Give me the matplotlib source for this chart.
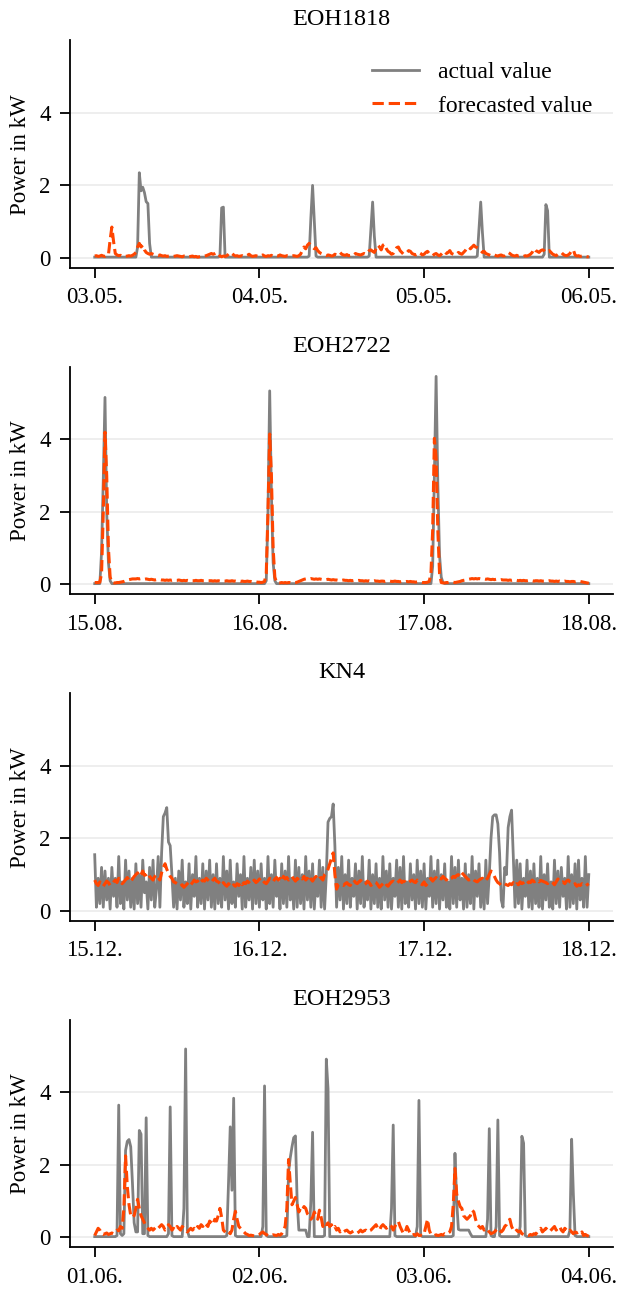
import numpy as np
import pandas as pd
import matplotlib
matplotlib.use("Agg")
import matplotlib.pyplot as plt
import matplotlib.dates as mdates

plt.rcParams['font.family'] = ['Liberation Serif', 'DejaVu Serif']
plt.rcParams['font.size'] = 16.5

titles = ['EOH1818', 'EOH2722', 'KN4', 'EOH2953']
start_dates = ['2019-05-03', '2019-08-15', '2019-12-15', '2019-06-01']
legend_labels = ['actual value', 'forecasted value']
y_ticks = [0, 2, 4]

# 15-minute values, 3 days (289 samples each)
eoh1818_actual = [
    0.02, 0.02, 0.02, 0.02, 0.02, 0.02, 0.02, 0.02, 0.02, 0.02, 0.02, 0.02, 0.02, 0.02, 0.02, 0.02, 0.02, 0.02, 0.02, 0.02, 0.02, 0.02, 0.02, 0.02,
    0.02, 0.3, 2.35, 1.85, 1.95, 1.8, 1.55, 1.5, 0.4, 0.02, 0.02, 0.02, 0.02, 0.02, 0.02, 0.02, 0.02, 0.02, 0.02, 0.02, 0.02, 0.02, 0.02, 0.02,
    0.02, 0.02, 0.02, 0.02, 0.02, 0.02, 0.02, 0.02, 0.02, 0.02, 0.02, 0.02, 0.02, 0.02, 0.02, 0.02, 0.02, 0.02, 0.02, 0.02, 0.02, 0.02, 0.02, 0.02,
    0.02, 0.05, 1.38, 1.4, 0.02, 0.02, 0.02, 0.02, 0.02, 0.02, 0.02, 0.02, 0.02, 0.02, 0.02, 0.02, 0.02, 0.02, 0.02, 0.02, 0.02, 0.02, 0.02, 0.02,
    0.02, 0.02, 0.02, 0.02, 0.02, 0.02, 0.02, 0.02, 0.02, 0.02, 0.02, 0.02, 0.02, 0.02, 0.02, 0.02, 0.02, 0.02, 0.02, 0.02, 0.02, 0.02, 0.02, 0.02,
    0.02, 0.02, 0.02, 0.02, 0.02, 0.05, 1.1, 2.0, 1.0, 0.05, 0.02, 0.02, 0.02, 0.02, 0.02, 0.02, 0.02, 0.02, 0.02, 0.02, 0.02, 0.02, 0.02, 0.02,
    0.02, 0.02, 0.02, 0.02, 0.02, 0.02, 0.02, 0.02, 0.02, 0.02, 0.02, 0.02, 0.02, 0.02, 0.02, 0.02, 0.05, 0.8, 1.54, 0.6, 0.02, 0.02, 0.02, 0.02,
    0.02, 0.02, 0.02, 0.02, 0.02, 0.02, 0.02, 0.02, 0.02, 0.02, 0.02, 0.02, 0.02, 0.02, 0.02, 0.02, 0.02, 0.02, 0.02, 0.02, 0.02, 0.02, 0.02, 0.02,
    0.02, 0.02, 0.02, 0.02, 0.02, 0.02, 0.02, 0.02, 0.02, 0.02, 0.02, 0.02, 0.02, 0.02, 0.02, 0.02, 0.02, 0.02, 0.02, 0.02, 0.02, 0.02, 0.02, 0.02,
    0.02, 0.02, 0.02, 0.02, 0.02, 0.02, 0.02, 0.05, 0.8, 1.54, 0.7, 0.02, 0.02, 0.02, 0.02, 0.02, 0.02, 0.02, 0.02, 0.02, 0.02, 0.02, 0.02, 0.02,
    0.02, 0.02, 0.02, 0.02, 0.02, 0.02, 0.02, 0.02, 0.02, 0.02, 0.02, 0.02, 0.02, 0.02, 0.02, 0.02, 0.02, 0.02, 0.02, 0.02, 0.02, 0.02, 0.1, 1.47,
    1.3, 0.02, 0.02, 0.02, 0.02, 0.02, 0.02, 0.02, 0.02, 0.02, 0.02, 0.02, 0.02, 0.02, 0.02, 0.02, 0.02, 0.02, 0.02, 0.02, 0.02, 0.02, 0.02, 0.02,
    0.02,
]
eoh1818_forecast = [
    0.05, 0.06, 0.04, 0.05, 0.07, 0.05, 0.04, 0.06, 0.08, 0.5, 0.85, 0.45, 0.12, 0.08, 0.06, 0.07, 0.05, 0.06, 0.04, 0.05, 0.06, 0.05, 0.07, 0.1,
    0.15, 0.3, 0.4, 0.3, 0.35, 0.22, 0.15, 0.12, 0.1, 0.12, 0.1, 0.08, 0.07, 0.06, 0.08, 0.06, 0.05, 0.06, 0.04, 0.05, 0.06, 0.05, 0.04, 0.05,
    0.06, 0.05, 0.04, 0.03, 0.05, 0.04, 0.05, 0.03, 0.04, 0.05, 0.03, 0.04, 0.02, 0.03, 0.04, 0.03, 0.05, 0.06, 0.08, 0.1, 0.12, 0.1, 0.12, 0.15,
    0.1, 0.05, 0.03, 0.05, 0.04, 0.06, 0.1, 0.15, 0.12, 0.08, 0.05, 0.06, 0.04, 0.05, 0.06, 0.04, 0.05, 0.07, 0.1, 0.06, 0.04, 0.05, 0.06, 0.04,
    0.05, 0.06, 0.08, 0.05, 0.04, 0.06, 0.05, 0.07, 0.04, 0.05, 0.06, 0.05, 0.08, 0.06, 0.05, 0.04, 0.06, 0.05, 0.04, 0.05, 0.06, 0.05, 0.04, 0.06,
    0.1, 0.2, 0.3, 0.25, 0.35, 0.4, 0.35, 0.3, 0.25, 0.28, 0.2, 0.15, 0.12, 0.1, 0.08, 0.06, 0.08, 0.07, 0.05, 0.06, 0.1, 0.08, 0.12, 0.15,
    0.1, 0.08, 0.07, 0.09, 0.06, 0.07, 0.1, 0.08, 0.12, 0.1, 0.09, 0.08, 0.1, 0.12, 0.1, 0.15, 0.2, 0.22, 0.18, 0.15, 0.25, 0.35, 0.3, 0.22,
    0.35, 0.38, 0.25, 0.18, 0.15, 0.1, 0.12, 0.2, 0.28, 0.3, 0.2, 0.15, 0.1, 0.12, 0.15, 0.2, 0.18, 0.12, 0.1, 0.08, 0.1, 0.15, 0.12, 0.08,
    0.1, 0.15, 0.18, 0.12, 0.08, 0.06, 0.1, 0.12, 0.08, 0.06, 0.1, 0.15, 0.18, 0.12, 0.15, 0.2, 0.12, 0.1, 0.08, 0.1, 0.15, 0.12, 0.1, 0.15,
    0.2, 0.28, 0.3, 0.25, 0.3, 0.35, 0.3, 0.28, 0.25, 0.2, 0.15, 0.18, 0.12, 0.1, 0.08, 0.06, 0.05, 0.08, 0.06, 0.05, 0.07, 0.08, 0.05, 0.06,
    0.1, 0.15, 0.12, 0.08, 0.06, 0.05, 0.07, 0.05, 0.06, 0.05, 0.04, 0.06, 0.05, 0.07, 0.1, 0.15, 0.25, 0.2, 0.18, 0.15, 0.2, 0.22, 0.2, 0.15,
    0.18, 0.2, 0.15, 0.1, 0.08, 0.06, 0.1, 0.12, 0.15, 0.1, 0.07, 0.06, 0.08, 0.12, 0.2, 0.22, 0.08, 0.05, 0.06, 0.04, 0.05, 0.03, 0.04, 0.03,
    0.03,
]

eoh2722_actual = [
    0.02, 0.02, 0.02, 0.02, 0.9, 2.9, 5.16, 2.0, 0.6, 0.1, 0.02, 0.02, 0.02, 0.02, 0.02, 0.02, 0.02, 0.02, 0.02, 0.02, 0.02, 0.02, 0.02, 0.02,
    0.02, 0.02, 0.02, 0.02, 0.02, 0.02, 0.02, 0.02, 0.02, 0.02, 0.02, 0.02, 0.02, 0.02, 0.02, 0.02, 0.02, 0.02, 0.02, 0.02, 0.02, 0.02, 0.02, 0.02,
    0.02, 0.02, 0.02, 0.02, 0.02, 0.02, 0.02, 0.02, 0.02, 0.02, 0.02, 0.02, 0.02, 0.02, 0.02, 0.02, 0.02, 0.02, 0.02, 0.02, 0.02, 0.02, 0.02, 0.02,
    0.02, 0.02, 0.02, 0.02, 0.02, 0.02, 0.02, 0.02, 0.02, 0.02, 0.02, 0.02, 0.02, 0.02, 0.02, 0.02, 0.02, 0.02, 0.02, 0.02, 0.02, 0.02, 0.02, 0.02,
    0.02, 0.02, 0.02, 0.02, 0.1, 2.0, 5.34, 2.5, 0.6, 0.1, 0.02, 0.02, 0.02, 0.02, 0.02, 0.02, 0.02, 0.02, 0.02, 0.02, 0.02, 0.02, 0.02, 0.02,
    0.02, 0.02, 0.02, 0.02, 0.02, 0.02, 0.02, 0.02, 0.02, 0.02, 0.02, 0.02, 0.02, 0.02, 0.02, 0.02, 0.02, 0.02, 0.02, 0.02, 0.02, 0.02, 0.02, 0.02,
    0.02, 0.02, 0.02, 0.02, 0.02, 0.02, 0.02, 0.02, 0.02, 0.02, 0.02, 0.02, 0.02, 0.02, 0.02, 0.02, 0.02, 0.02, 0.02, 0.02, 0.02, 0.02, 0.02, 0.02,
    0.02, 0.02, 0.02, 0.02, 0.02, 0.02, 0.02, 0.02, 0.02, 0.02, 0.02, 0.02, 0.02, 0.02, 0.02, 0.02, 0.02, 0.02, 0.02, 0.02, 0.02, 0.02, 0.02, 0.02,
    0.02, 0.02, 0.02, 0.02, 0.02, 0.5, 3.0, 5.74, 2.8, 0.8, 0.2, 0.05, 0.02, 0.02, 0.02, 0.02, 0.02, 0.02, 0.02, 0.02, 0.02, 0.02, 0.02, 0.02,
    0.02, 0.02, 0.02, 0.02, 0.02, 0.02, 0.02, 0.02, 0.02, 0.02, 0.02, 0.02, 0.02, 0.02, 0.02, 0.02, 0.02, 0.02, 0.02, 0.02, 0.02, 0.02, 0.02, 0.02,
    0.02, 0.02, 0.02, 0.02, 0.02, 0.02, 0.02, 0.02, 0.02, 0.02, 0.02, 0.02, 0.02, 0.02, 0.02, 0.02, 0.02, 0.02, 0.02, 0.02, 0.02, 0.02, 0.02, 0.02,
    0.02, 0.02, 0.02, 0.02, 0.02, 0.02, 0.02, 0.02, 0.02, 0.02, 0.02, 0.02, 0.02, 0.02, 0.02, 0.02, 0.02, 0.02, 0.02, 0.02, 0.02, 0.02, 0.02, 0.02,
    0.02,
]
eoh2722_forecast = [
    0.05, 0.05, 0.05, 0.06, 0.3, 2.0, 4.2, 3.0, 1.0, 0.2, 0.05, 0.04, 0.04, 0.05, 0.05, 0.06, 0.07, 0.08, 0.1, 0.12, 0.13, 0.14, 0.15, 0.15,
    0.15, 0.16, 0.15, 0.16, 0.15, 0.14, 0.15, 0.14, 0.13, 0.14, 0.13, 0.12, 0.13, 0.12, 0.13, 0.12, 0.12, 0.11, 0.12, 0.11, 0.12, 0.11, 0.12, 0.11,
    0.11, 0.12, 0.11, 0.1, 0.11, 0.1, 0.11, 0.1, 0.11, 0.1, 0.1, 0.11, 0.1, 0.1, 0.11, 0.1, 0.1, 0.11, 0.1, 0.1, 0.1, 0.09, 0.1, 0.09,
    0.1, 0.09, 0.1, 0.09, 0.09, 0.1, 0.09, 0.09, 0.1, 0.09, 0.09, 0.08, 0.09, 0.08, 0.09, 0.08, 0.08, 0.09, 0.08, 0.08, 0.07, 0.08, 0.07, 0.06,
    0.06, 0.05, 0.06, 0.08, 0.3, 2.0, 4.15, 3.0, 1.0, 0.2, 0.05, 0.04, 0.04, 0.05, 0.04, 0.05, 0.04, 0.05, 0.05, 0.04, 0.05, 0.05, 0.06, 0.08,
    0.1, 0.12, 0.14, 0.15, 0.16, 0.15, 0.16, 0.15, 0.14, 0.15, 0.14, 0.15, 0.14, 0.13, 0.14, 0.13, 0.14, 0.13, 0.12, 0.13, 0.12, 0.12, 0.11, 0.12,
    0.11, 0.12, 0.11, 0.11, 0.1, 0.11, 0.1, 0.11, 0.1, 0.1, 0.11, 0.1, 0.1, 0.09, 0.1, 0.09, 0.1, 0.09, 0.09, 0.1, 0.09, 0.09, 0.08, 0.09,
    0.09, 0.08, 0.09, 0.08, 0.09, 0.08, 0.08, 0.09, 0.08, 0.08, 0.07, 0.08, 0.08, 0.07, 0.08, 0.07, 0.08, 0.07, 0.07, 0.06, 0.07, 0.06, 0.06, 0.05,
    0.05, 0.05, 0.06, 0.08, 0.3, 1.5, 4.03, 3.5, 1.5, 0.3, 0.05, 0.04, 0.04, 0.05, 0.05, 0.06, 0.05, 0.06, 0.05, 0.06, 0.07, 0.08, 0.1, 0.11,
    0.12, 0.13, 0.14, 0.15, 0.16, 0.15, 0.16, 0.15, 0.16, 0.15, 0.14, 0.15, 0.14, 0.15, 0.14, 0.13, 0.14, 0.13, 0.14, 0.13, 0.12, 0.13, 0.12, 0.12,
    0.12, 0.11, 0.12, 0.11, 0.12, 0.11, 0.11, 0.1, 0.11, 0.1, 0.11, 0.1, 0.1, 0.11, 0.1, 0.1, 0.09, 0.1, 0.1, 0.09, 0.1, 0.09, 0.09, 0.1,
    0.09, 0.1, 0.09, 0.09, 0.08, 0.09, 0.08, 0.09, 0.08, 0.08, 0.09, 0.08, 0.08, 0.07, 0.08, 0.08, 0.07, 0.08, 0.07, 0.08, 0.07, 0.06, 0.05, 0.04,
    0.03,
]

kn4_actual = [
    1.55, 0.1, 0.9, 0.2, 1.2, 0.1, 1.1, 0.3, 0.9, 0.05, 1.2, 0.4, 0.9, 0.1, 1.5, 0.2, 0.8, 0.05, 1.4, 0.3, 1.1, 0.1, 0.9, 0.05,
    1.3, 0.2, 1.0, 0.1, 1.4, 0.5, 0.8, 0.05, 1.2, 0.3, 1.4, 0.1, 0.6, 1.5, 0.1, 1.6, 2.6, 2.7, 2.85, 1.9, 1.8, 1.0, 0.1, 0.9,
    0.05, 1.1, 0.3, 1.4, 0.1, 0.8, 0.2, 1.3, 0.05, 1.0, 0.4, 1.5, 0.1, 0.9, 0.2, 1.3, 0.05, 1.1, 0.3, 1.4, 0.1, 1.0, 0.05, 1.3,
    0.2, 0.9, 0.1, 1.5, 0.3, 1.1, 0.05, 1.4, 0.2, 0.8, 0.1, 1.3, 0.4, 1.0, 0.05, 1.5, 0.1, 0.9, 0.3, 1.2, 0.05, 1.4, 0.2, 1.1,
    0.1, 1.3, 0.3, 0.9, 0.05, 1.5, 0.2, 1.0, 0.1, 1.4, 0.4, 0.8, 0.05, 1.3, 0.2, 1.1, 0.1, 1.5, 0.3, 0.9, 0.05, 1.4, 0.1, 1.2,
    0.2, 1.0, 0.05, 1.5, 0.3, 1.1, 0.1, 1.3, 0.05, 0.9, 0.4, 1.4, 0.1, 1.2, 0.05, 1.0, 2.45, 2.55, 2.6, 2.95, 1.8, 0.1, 1.2, 0.3,
    1.5, 0.05, 1.0, 0.2, 1.4, 0.1, 0.9, 0.4, 1.3, 0.05, 1.1, 0.2, 1.5, 0.1, 0.8, 0.3, 1.4, 0.05, 1.0, 0.2, 1.3, 0.1, 0.9, 0.05,
    1.5, 0.3, 1.1, 0.1, 1.3, 0.05, 0.9, 0.4, 1.4, 0.1, 1.2, 0.05, 1.5, 0.2, 0.8, 0.1, 1.3, 0.3, 1.0, 0.05, 1.4, 0.2, 1.1, 0.1,
    1.3, 0.05, 0.9, 0.4, 1.5, 0.1, 1.1, 0.2, 1.4, 0.05, 1.0, 0.3, 1.3, 0.1, 0.8, 0.05, 1.5, 0.2, 1.2, 0.1, 1.4, 0.3, 0.9, 0.05,
    1.3, 0.1, 1.0, 0.2, 1.5, 0.05, 1.1, 0.4, 1.3, 0.1, 0.9, 0.05, 1.4, 0.2, 1.0, 2.0, 2.6, 2.65, 2.65, 2.4, 1.6, 0.3, 0.1, 1.2,
    1.0, 2.3, 2.6, 2.78, 1.5, 0.1, 1.4, 0.2, 1.3, 0.05, 0.9, 0.4, 1.4, 0.1, 1.1, 0.05, 1.3, 0.2, 0.9, 0.1, 1.5, 0.05, 1.0, 0.3,
    1.3, 0.1, 0.8, 0.05, 1.4, 0.2, 1.1, 0.1, 1.2, 0.4, 0.9, 0.05, 1.5, 0.1, 1.0, 0.2, 1.3, 0.05, 1.4, 0.3, 0.9, 0.1, 1.5, 0.1,
    1.0,
]
kn4_forecast = [
    0.85, 0.75, 0.7, 0.8, 0.72, 0.68, 0.75, 0.82, 0.78, 0.7, 0.74, 0.8, 0.85, 0.78, 0.9, 0.82, 0.75, 0.8, 0.86, 0.92, 0.85, 0.8, 0.88, 0.95,
    1.0, 1.05, 0.95, 1.0, 1.1, 0.98, 1.0, 1.05, 0.95, 0.9, 0.85, 0.95, 1.0, 0.92, 0.85, 1.05, 1.2, 1.3, 1.15, 1.05, 0.95, 0.9, 0.8, 0.78,
    0.75, 0.7, 0.68, 0.72, 0.65, 0.7, 0.75, 0.8, 0.72, 0.78, 0.85, 0.8, 0.82, 0.88, 0.8, 0.85, 0.82, 0.9, 0.85, 0.8, 0.78, 0.85, 0.9, 0.82,
    0.8, 0.75, 0.7, 0.78, 0.72, 0.68, 0.75, 0.7, 0.65, 0.72, 0.68, 0.75, 0.7, 0.8, 0.72, 0.78, 0.75, 0.82, 0.78, 0.74, 0.8, 0.85, 0.78, 0.82,
    0.88, 0.8, 0.84, 0.78, 0.75, 0.82, 0.9, 0.85, 0.8, 0.88, 0.92, 0.85, 0.9, 0.82, 0.95, 0.88, 0.92, 0.85, 0.9, 0.95, 0.88, 0.82, 0.9, 0.85,
    0.92, 0.88, 0.95, 0.85, 0.9, 0.98, 0.88, 0.82, 0.9, 0.95, 0.85, 0.9, 0.92, 0.85, 1.0, 1.05, 1.15, 1.3, 1.45, 1.6, 1.0, 0.6, 0.72, 0.75,
    0.72, 0.7, 0.75, 0.78, 0.72, 0.7, 0.8, 0.85, 0.78, 0.75, 0.8, 0.84, 0.78, 0.72, 0.75, 0.82, 0.78, 0.7, 0.74, 0.8, 0.78, 0.72, 0.65, 0.7,
    0.75, 0.8, 0.72, 0.68, 0.75, 0.8, 0.82, 0.78, 0.75, 0.8, 0.85, 0.78, 0.82, 0.8, 0.75, 0.78, 0.82, 0.85, 0.8, 0.78, 0.85, 0.8, 0.75, 0.72,
    0.8, 0.7, 0.75, 0.85, 0.9, 0.82, 0.88, 0.92, 0.85, 0.9, 0.88, 0.95, 0.9, 0.85, 0.92, 0.88, 0.9, 0.95, 0.92, 0.98, 1.0, 0.95, 1.05, 1.0,
    0.95, 0.9, 0.85, 0.88, 0.9, 0.85, 0.82, 0.8, 0.85, 0.88, 0.9, 0.82, 0.85, 0.9, 1.0, 1.1, 1.05, 0.95, 0.85, 0.78, 0.75, 0.7, 0.72, 0.75,
    0.72, 0.7, 0.75, 0.72, 0.78, 0.7, 0.75, 0.72, 0.8, 0.75, 0.78, 0.82, 0.75, 0.8, 0.78, 0.85, 0.8, 0.82, 0.86, 0.8, 0.84, 0.82, 0.8, 0.78,
    0.75, 0.8, 0.82, 0.78, 0.72, 0.8, 0.88, 0.82, 0.78, 0.8, 0.75, 0.82, 0.85, 0.8, 0.78, 0.72, 0.75, 0.68, 0.72, 0.7, 0.75, 0.72, 0.68, 0.72,
    0.75,
]

eoh2953_actual = [
    0.02, 0.02, 0.02, 0.02, 0.02, 0.02, 0.02, 0.02, 0.02, 0.02, 0.02, 0.02, 0.02, 0.05, 3.65, 0.1, 0.05, 0.1, 2.4, 2.65, 2.7, 2.5, 1.5, 0.4,
    0.15, 0.15, 2.95, 2.85, 0.1, 0.1, 3.3, 0.05, 0.02, 0.02, 0.02, 0.02, 0.02, 0.02, 0.02, 0.02, 0.02, 0.02, 0.02, 0.1, 3.6, 0.05, 0.02, 0.02,
    0.02, 0.02, 0.02, 0.02, 0.8, 5.2, 0.2, 0.02, 0.02, 0.02, 0.02, 0.02, 0.02, 0.02, 0.02, 0.02, 0.02, 0.02, 0.02, 0.02, 0.02, 0.02, 0.02, 0.02,
    0.02, 0.02, 0.02, 0.02, 0.02, 0.05, 1.5, 3.05, 1.3, 3.84, 0.05, 0.02, 0.02, 0.02, 0.02, 0.02, 0.02, 0.02, 0.02, 0.02, 0.02, 0.02, 0.02, 0.02,
    0.02, 0.02, 0.3, 4.18, 0.05, 0.02, 0.02, 0.02, 0.02, 0.02, 0.02, 0.02, 0.02, 0.02, 0.02, 0.02, 0.05, 1.8, 2.2, 2.5, 2.75, 2.8, 1.0, 0.2,
    0.2, 0.2, 0.2, 0.2, 0.02, 0.02, 1.0, 2.9, 0.02, 0.02, 0.02, 0.02, 0.02, 0.02, 0.05, 4.92, 4.1, 0.02, 0.02, 0.02, 0.02, 0.02, 0.02, 0.02,
    0.02, 0.02, 0.02, 0.02, 0.02, 0.02, 0.02, 0.02, 0.02, 0.02, 0.02, 0.02, 0.02, 0.02, 0.02, 0.02, 0.02, 0.02, 0.02, 0.02, 0.02, 0.02, 0.02, 0.02,
    0.02, 0.02, 0.02, 0.02, 0.02, 0.8, 3.1, 0.05, 0.02, 0.02, 0.02, 0.02, 0.02, 0.02, 0.02, 0.02, 0.02, 0.02, 0.02, 0.02, 0.3, 3.78, 0.05, 0.02,
    0.02, 0.02, 0.02, 0.02, 0.02, 0.02, 0.02, 0.02, 0.02, 0.02, 0.02, 0.02, 0.02, 0.02, 0.02, 0.02, 0.02, 0.05, 2.32, 1.0, 0.22, 0.2, 0.2, 0.2,
    0.2, 0.2, 0.2, 0.1, 0.02, 0.02, 0.02, 0.02, 0.02, 0.02, 0.02, 0.02, 0.02, 0.5, 3.0, 0.05, 0.02, 0.02, 0.3, 3.24, 0.05, 0.02, 0.02, 0.02,
    0.02, 0.02, 0.02, 0.02, 0.02, 0.02, 0.02, 0.02, 0.3, 2.79, 2.6, 0.05, 0.02, 0.02, 0.02, 0.02, 0.02, 0.02, 0.02, 0.02, 0.02, 0.02, 0.02, 0.02,
    0.02, 0.02, 0.02, 0.02, 0.02, 0.02, 0.02, 0.02, 0.02, 0.02, 0.02, 0.02, 0.02, 0.2, 2.71, 1.2, 0.05, 0.02, 0.02, 0.02, 0.02, 0.02, 0.02, 0.02,
    0.02,
]
eoh2953_forecast = [
    0.05, 0.15, 0.25, 0.2, 0.1, 0.08, 0.1, 0.12, 0.08, 0.1, 0.12, 0.1, 0.15, 0.2, 0.18, 0.3, 0.25, 0.8, 2.25, 1.4, 0.9, 0.6, 0.55, 0.6,
    0.8, 1.05, 0.8, 0.6, 0.5, 0.4, 0.3, 0.25, 0.2, 0.25, 0.2, 0.25, 0.3, 0.25, 0.3, 0.35, 0.3, 0.2, 0.25, 0.35, 0.3, 0.2, 0.25, 0.2,
    0.3, 0.25, 0.2, 0.3, 0.25, 0.2, 0.15, 0.2, 0.25, 0.2, 0.25, 0.2, 0.3, 0.25, 0.35, 0.3, 0.4, 0.35, 0.3, 0.45, 0.4, 0.35, 0.5, 0.45,
    0.6, 0.8, 0.55, 0.2, 0.15, 0.1, 0.15, 0.1, 0.2, 0.5, 0.72, 0.5, 0.3, 0.25, 0.2, 0.15, 0.1, 0.08, 0.05, 0.06, 0.05, 0.04, 0.05, 0.06,
    0.08, 0.12, 0.15, 0.1, 0.08, 0.05, 0.06, 0.05, 0.07, 0.06, 0.05, 0.08, 0.06, 0.1, 0.2, 0.3, 0.8, 2.15, 1.5, 0.9, 1.0, 1.1, 0.9, 0.7,
    0.8, 0.75, 0.85, 0.8, 0.65, 0.6, 0.5, 0.55, 0.7, 0.6, 0.5, 0.75, 0.55, 0.3, 0.4, 0.35, 0.4, 0.3, 0.35, 0.25, 0.3, 0.2, 0.25, 0.15,
    0.2, 0.15, 0.18, 0.2, 0.15, 0.12, 0.15, 0.18, 0.15, 0.12, 0.15, 0.2, 0.15, 0.18, 0.2, 0.15, 0.18, 0.2, 0.25, 0.3, 0.35, 0.25, 0.2, 0.3,
    0.35, 0.3, 0.25, 0.3, 0.35, 0.3, 0.2, 0.3, 0.4, 0.44, 0.3, 0.2, 0.1, 0.15, 0.3, 0.2, 0.1, 0.05, 0.08, 0.05, 0.1, 0.05, 0.06, 0.05,
    0.1, 0.3, 0.5, 0.2, 0.08, 0.06, 0.05, 0.07, 0.05, 0.06, 0.08, 0.06, 0.1, 0.08, 0.12, 0.15, 0.3, 0.9, 1.9, 1.2, 1.0, 0.85, 0.8, 0.6,
    0.55, 0.5, 0.55, 0.6, 0.75, 0.7, 0.5, 0.35, 0.3, 0.25, 0.3, 0.2, 0.25, 0.2, 0.15, 0.1, 0.12, 0.15, 0.2, 0.25, 0.2, 0.15, 0.2, 0.3,
    0.35, 0.45, 0.5, 0.3, 0.2, 0.15, 0.2, 0.15, 0.18, 0.1, 0.08, 0.05, 0.06, 0.05, 0.08, 0.06, 0.1, 0.08, 0.15, 0.2, 0.25, 0.15, 0.2, 0.25,
    0.2, 0.15, 0.2, 0.25, 0.3, 0.2, 0.25, 0.3, 0.2, 0.15, 0.25, 0.2, 0.15, 0.2, 0.15, 0.1, 0.15, 0.12, 0.15, 0.1, 0.15, 0.05, 0.08, 0.05,
    0.03,
]

actual_series = [eoh1818_actual, eoh2722_actual, kn4_actual, eoh2953_actual]
forecast_series = [eoh1818_forecast, eoh2722_forecast, kn4_forecast, eoh2953_forecast]

fig = plt.figure(figsize=(6.2, 12.89), dpi=100)
axes = fig.subplots(4, 1)
fig.subplots_adjust(left=0.1129, right=0.9895, top=0.9686, bottom=0.0322, hspace=0.435)

for i, (ax, title, start, act, fc) in enumerate(zip(axes, titles, start_dates, actual_series, forecast_series)):
    t_act = pd.date_range(start, periods=len(act), freq='15min')
    t_fc = pd.date_range(start, periods=len(fc), freq='15min')
    ax.plot(t_act, act, color='#808080', lw=2.0, label=legend_labels[0])
    ax.plot(t_fc, fc, color='#FF4500', lw=2.2, ls='--', label=legend_labels[1])
    ax.set_ylim(-0.28, 6.0)
    ax.set_yticks(y_ticks)
    ax.grid(axis='y', color='#ebebeb', lw=1.2)
    ax.set_axisbelow(True)
    ax.xaxis.set_major_locator(mdates.DayLocator())
    ax.xaxis.set_major_formatter(mdates.DateFormatter('%d.%m.'))
    for s in ['top', 'right']:
        ax.spines[s].set_visible(False)
    for s in ['left', 'bottom']:
        ax.spines[s].set_linewidth(1.3)
    ax.tick_params(axis='both', length=7, width=1.3, direction='out', labelsize=16.5, pad=7)
    ax.set_ylabel('Power in kW', fontsize=16.5, labelpad=6)
    ax.set_title(title, fontsize=17.5, pad=11)
    if i == 0:
        ax.legend(loc='upper right', frameon=False, fontsize=17)

fig.savefig('out.png', dpi=100)
